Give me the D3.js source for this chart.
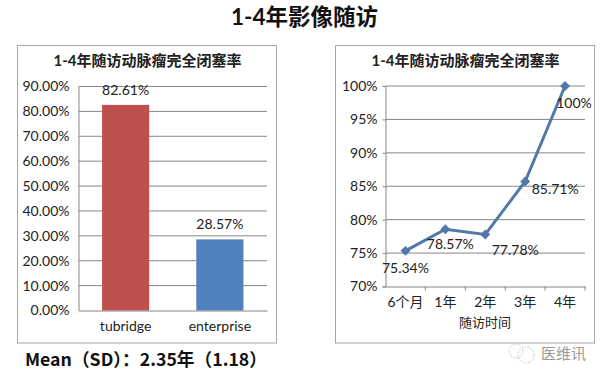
<!DOCTYPE html>
<html>
<head>
<meta charset="utf-8">
<script src="https://cdn.jsdelivr.net/npm/d3@7"></script>
<style>
  html, body { margin: 0; padding: 0; background: #fff; }
  text { font-family: Lato, "Noto Sans CJK SC", sans-serif; fill: #222; }
</style>
</head>
<body>
<div id="graph"></div>
<script>
// Values
const pageTitle = '1-4年影像随访'
const chartTitle = '1-4年随访动脉瘤完全闭塞率'
const footNote = 'Mean（SD）：2.35年（1.18）'
const watermark = '医维讯'

const barCategories = ['tubridge', 'enterprise']
const barValues = [82.61, 28.57]
const barColors = ['#c0504d', '#4f81bd']
const barTicks = [0, 10, 20, 30, 40, 50, 60, 70, 80, 90]

const lineCategories = ['6个月', '1年', '2年', '3年', '4年']
const lineValues = [75.34, 78.57, 77.78, 85.71, 100]
const lineLabels = ['75.34%', '78.57%', '77.78%', '85.71%', '100%']
const lineTicks = [70, 75, 80, 85, 90, 95, 100]
const lineXTitle = '随访时间'

const svg = d3.select('#graph').append('svg')
  .attr('width', 604)
  .attr('height', 380)
  .style('display', 'block')

svg.append('text')
  .attr('x', 304.5).attr('y', 25)
  .attr('text-anchor', 'middle')
  .style('font-size', '22.5px').style('font-weight', 700)
  .style('fill', '#111')
  .text(pageTitle)

svg.append('text')
  .attr('x', 25).attr('y', 366)
  .style('font-family', '"Noto Sans CJK SC", sans-serif')
  .style('font-size', '17.7px').style('font-weight', 700)
  .style('fill', '#111')
  .text(footNote)

// Frame and title shared by both charts
function frame(x) {
  svg.append('rect')
    .attr('x', x).attr('y', 45.5)
    .attr('width', 259).attr('height', 297.5)
    .attr('fill', '#fff').attr('stroke', '#a6a6a6').attr('stroke-width', 1)
  svg.append('text')
    .attr('x', x + 130).attr('y', 66)
    .attr('text-anchor', 'middle')
    .style('font-size', '15px').style('font-weight', 700)
    .text(chartTitle)
}

function styleAxis(ax) {
  ax.selectAll('path, line').attr('stroke', '#868686')
  ax.selectAll('text').style('font-size', '14px').style('fill', '#222')
}

// Left chart: bars
frame(17.5)

const xBar = d3.scaleBand().domain(barCategories).range([78.5, 267]).paddingInner(0.5).paddingOuter(0.25)
const yBar = d3.scaleLinear().domain([0, 90]).range([310.5, 86.5])

const barGrid = svg.append('g')
barGrid.selectAll('line').data(barTicks.slice(1)).enter().append('line')
  .attr('x1', 78.5).attr('x2', 267)
  .attr('y1', d => yBar(d)).attr('y2', d => yBar(d))
  .attr('stroke', '#868686')

svg.selectAll('.bar').data(barValues).enter().append('rect')
  .attr('class', 'bar')
  .attr('x', (d, i) => xBar(barCategories[i]))
  .attr('y', d => yBar(d))
  .attr('width', xBar.bandwidth())
  .attr('height', d => yBar(0) - yBar(d))
  .attr('fill', (d, i) => barColors[i])

svg.selectAll('.barLabel').data(barValues).enter().append('text')
  .attr('class', 'barLabel')
  .attr('x', (d, i) => xBar(barCategories[i]) + xBar.bandwidth() / 2)
  .attr('y', d => yBar(d) - 10)
  .attr('text-anchor', 'middle')
  .style('font-size', '14px')
  .text(d => d.toFixed(2) + '%')

const barY = svg.append('g').attr('transform', 'translate(78.5,0)')
  .call(d3.axisLeft(yBar).tickValues(barTicks).tickSize(0).tickPadding(9).tickFormat(d => d.toFixed(2) + '%'))
styleAxis(barY)

const barX = svg.append('g').attr('transform', 'translate(0,310.5)')
  .call(d3.axisBottom(xBar).tickSize(0).tickPadding(11))
styleAxis(barX)

// Right chart: line
frame(335.5)

const xLine = d3.scaleBand().domain(lineCategories).range([385.5, 585])
const yLine = d3.scaleLinear().domain([70, 100]).range([286.5, 86])
const lineX = d => xLine(d) + xLine.bandwidth() / 2

svg.append('g').selectAll('line').data(lineTicks.slice(1)).enter().append('line')
  .attr('x1', 385.5).attr('x2', 585)
  .attr('y1', d => yLine(d)).attr('y2', d => yLine(d))
  .attr('stroke', '#868686')

const lineY = svg.append('g').attr('transform', 'translate(385.5,0)')
  .call(d3.axisLeft(yLine).tickValues(lineTicks).tickSize(3).tickPadding(5).tickFormat(d => d + '%'))
styleAxis(lineY)

const lineAxisX = svg.append('g').attr('transform', 'translate(0,286.5)')
  .call(d3.axisBottom(xLine).tickSize(0).tickPadding(11))
styleAxis(lineAxisX)

// category-edge tick marks
lineAxisX.selectAll('.edge').data(lineCategories).enter().append('line')
  .attr('class', 'edge')
  .attr('x1', d => xLine(d) + xLine.bandwidth()).attr('x2', d => xLine(d) + xLine.bandwidth())
  .attr('y1', 0).attr('y2', 4)
  .attr('stroke', '#868686')

svg.append('text')
  .attr('x', 485).attr('y', 327)
  .attr('text-anchor', 'middle')
  .style('font-size', '13px')
  .text(lineXTitle)

const line = d3.line()
  .x((d, i) => lineX(lineCategories[i]))
  .y(d => yLine(d))

svg.append('path')
  .datum(lineValues)
  .attr('d', line)
  .attr('fill', 'none')
  .attr('stroke', '#4f79a8')
  .attr('stroke-width', 3)

svg.selectAll('.pt').data(lineValues).enter().append('path')
  .attr('class', 'pt')
  .attr('d', d3.symbol(d3.symbolDiamond2 || d3.symbolDiamond, 62))
  .attr('transform', (d, i) => `translate(${lineX(lineCategories[i])},${yLine(d)})`)
  .attr('fill', '#4f79a8')

// Data labels sit by hand-picked offsets, as in the reference
const labelDx = [0, 5, 30, 30, 9]
const labelDy = [22, 20, 20, 12, 22]
svg.selectAll('.ptLabel').data(lineValues).enter().append('text')
  .attr('class', 'ptLabel')
  .attr('x', (d, i) => lineX(lineCategories[i]) + labelDx[i])
  .attr('y', (d, i) => yLine(d) + labelDy[i])
  .attr('text-anchor', 'middle')
  .style('font-size', '14px')
  .text((d, i) => lineLabels[i])

// Watermark
const mark = svg.append('g').attr('fill', 'none').attr('stroke', '#bdbdbd').attr('stroke-dasharray', '1.5 1.5')
mark.append('circle').attr('cx', 516).attr('cy', 351).attr('r', 7)
mark.append('circle').attr('cx', 526).attr('cy', 355).attr('r', 8)
svg.append('text')
  .attr('x', 541).attr('y', 359)
  .style('font-size', '15px').style('fill', '#9a9a9a')
  .text(watermark)
</script>
</body>
</html>
